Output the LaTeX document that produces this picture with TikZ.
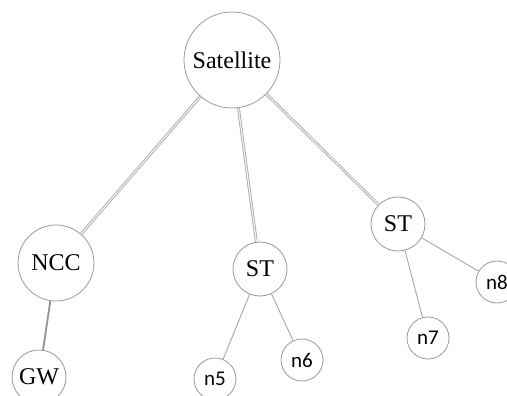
\documentclass[tikz,border=0pt]{standalone}
\usepackage{fontspec}
\setmainfont{Liberation Serif}
\newfontfamily\labelfont{Carlito}
\usepackage{tikz}

\begin{document}
\begin{tikzpicture}[x=1pt,y=-1pt,
    hub/.style={circle,draw=gray!80,line width=0.8pt,inner sep=0pt,font=\fontsize{24}{24}\selectfont},
    leaf/.style={circle,draw=gray!80,line width=0.8pt,inner sep=0pt,minimum size=42pt,font=\labelfont\fontsize{21}{21}\selectfont},
    uplink/.style={draw=gray!70,double=gray!10,double distance=1.2pt,line width=0.8pt},
    link/.style={draw=gray!70,line width=0.9pt}]
		% FRAME
		\useasboundingbox (0,0) rectangle (507,396);
		% TOP OF THE TREE
		\node [hub,minimum size=96pt] (sat) at (232,60) {Satellite};
		\node [hub,minimum size=76pt] (ncc) at (56,263) {NCC};
		\node [hub,minimum size=54pt] (gw) at (39,377) {GW};
		\node [hub,minimum size=54pt] (stA) at (260,269) {ST};
		\node [hub,minimum size=54pt] (stB) at (398,224) {ST};
		% END NODES
		\node [leaf] (n5) at (215,379) {n5};
		\node [leaf] (n6) at (302,360) {n6};
		\node [leaf] (n7) at (428,338) {n7};
		\node [leaf] (n8) at (497,282) {n8};
		% LINKS
		\draw [uplink] (sat) -- (ncc);
		\draw [uplink] (sat) -- (stA);
		\draw [uplink] (sat) -- (stB);
		\draw [link,draw=gray!85,line width=1.8pt] (ncc) -- (gw);
		\draw [link] (stA) -- (n5);
		\draw [link] (stA) -- (n6);
		\draw [link] (stB) -- (n7);
		\draw [link] (stB) -- (n8);
		\end{tikzpicture}
\end{document}
